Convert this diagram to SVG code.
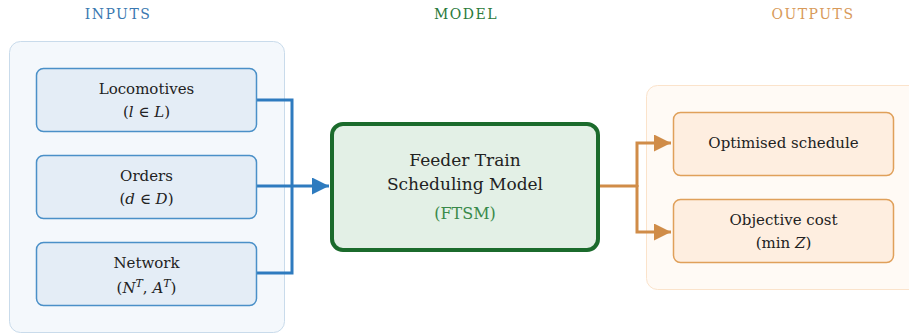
<svg xmlns="http://www.w3.org/2000/svg" width="909" height="336" viewBox="0 0 909 336" font-family="'DejaVu Serif', 'Liberation Serif', serif">
<defs>
<style>
text{font-family:'DejaVu Serif','Liberation Serif',serif;text-anchor:middle;fill:#222}
.hdr{font-size:14px;letter-spacing:1.5px}
.lbl{font-size:15px}
.in{fill:#e4edf6;stroke:#4a90c8;stroke-width:1.5}
.out{fill:#feeee0;stroke:#e0a05a;stroke-width:1.5}
.i{font-style:italic}
</style>
<marker id="ab" viewBox="0 0 10 10" refX="10" refY="5" markerWidth="17" markerHeight="17" markerUnits="userSpaceOnUse" orient="auto"><path d="M0,0 L10,5 L0,10 z" fill="#2e7bbf"/></marker>
<marker id="ao" viewBox="0 0 10 10" refX="10" refY="5" markerWidth="17" markerHeight="17" markerUnits="userSpaceOnUse" orient="auto"><path d="M0,0 L10,5 L0,10 z" fill="#d08c48"/></marker>
</defs>
<text class="hdr" x="118" y="19" style="fill:#3a78b0">INPUTS</text>
<text class="hdr" x="466" y="19" style="fill:#2a7a3a">MODEL</text>
<text class="hdr" x="813" y="19" style="fill:#d89a5a">OUTPUTS</text>
<g id="inputs-group">
<rect x="9.5" y="41.5" width="275" height="291" rx="11" fill="#f4f8fc" stroke="#c9dbeb" stroke-width="1"/>
</g>
<g id="outputs-group">
<rect x="646.5" y="85.5" width="275" height="204" rx="11" fill="#fffaf5" stroke="#fbe3cb" stroke-width="1"/>
</g>
<g id="connectors" fill="none">
<path d="M257,100 H292 V273 H257" stroke="#2e7bbf" stroke-width="3"/>
<path d="M257,186 H329" stroke="#2e7bbf" stroke-width="3" marker-end="url(#ab)"/>
<path d="M600,186 H637" stroke="#d08c48" stroke-width="3"/>
<path d="M637,187 V143 H671" stroke="#d08c48" stroke-width="3" marker-end="url(#ao)"/>
<path d="M637,185 V232 H671" stroke="#d08c48" stroke-width="3" marker-end="url(#ao)"/>
</g>
<g id="locomotives">
<rect class="in" x="36.5" y="68.5" width="220" height="63" rx="7"/>
<text class="lbl" x="146.5" y="94">Locomotives</text>
<text class="lbl" x="146.5" y="117">(<tspan class="i">l</tspan> ∈ <tspan class="i">L</tspan>)</text>
</g>
<g id="orders">
<rect class="in" x="36.5" y="155.5" width="220" height="63" rx="7"/>
<text class="lbl" x="146.5" y="181">Orders</text>
<text class="lbl" x="146.5" y="204">(<tspan class="i">d</tspan> ∈ <tspan class="i">D</tspan>)</text>
</g>
<g id="network">
<rect class="in" x="36.5" y="242.5" width="220" height="63" rx="7"/>
<text class="lbl" x="146.5" y="268">Network</text>
<text class="lbl" x="146.5" y="293">(<tspan class="i">N</tspan><tspan class="i" font-size="11" dy="-6">T</tspan><tspan dy="6">, </tspan><tspan class="i">A</tspan><tspan class="i" font-size="11" dy="-6">T</tspan><tspan dy="6">)</tspan></text>
</g>
<g id="ftsm">
<rect x="332" y="124" width="266" height="126" rx="11" fill="#e3f0e6" stroke="#1b6b2c" stroke-width="4"/>
<text class="lbl" x="465" y="166" style="font-size:17px">Feeder Train</text>
<text class="lbl" x="465" y="190" style="font-size:17px">Scheduling Model</text>
<text class="lbl" x="465" y="219" style="fill:#3a8a4a;font-size:16px">(FTSM)</text>
</g>
<g id="optimised-schedule">
<rect class="out" x="673.5" y="112.5" width="220" height="63" rx="7"/>
<text class="lbl" x="783.5" y="148">Optimised schedule</text>
</g>
<g id="objective-cost">
<rect class="out" x="673.5" y="199.5" width="220" height="63" rx="7"/>
<text class="lbl" x="783.5" y="225">Objective cost</text>
<text class="lbl" x="783.5" y="248">(min <tspan class="i">Z</tspan>)</text>
</g>
</svg>
